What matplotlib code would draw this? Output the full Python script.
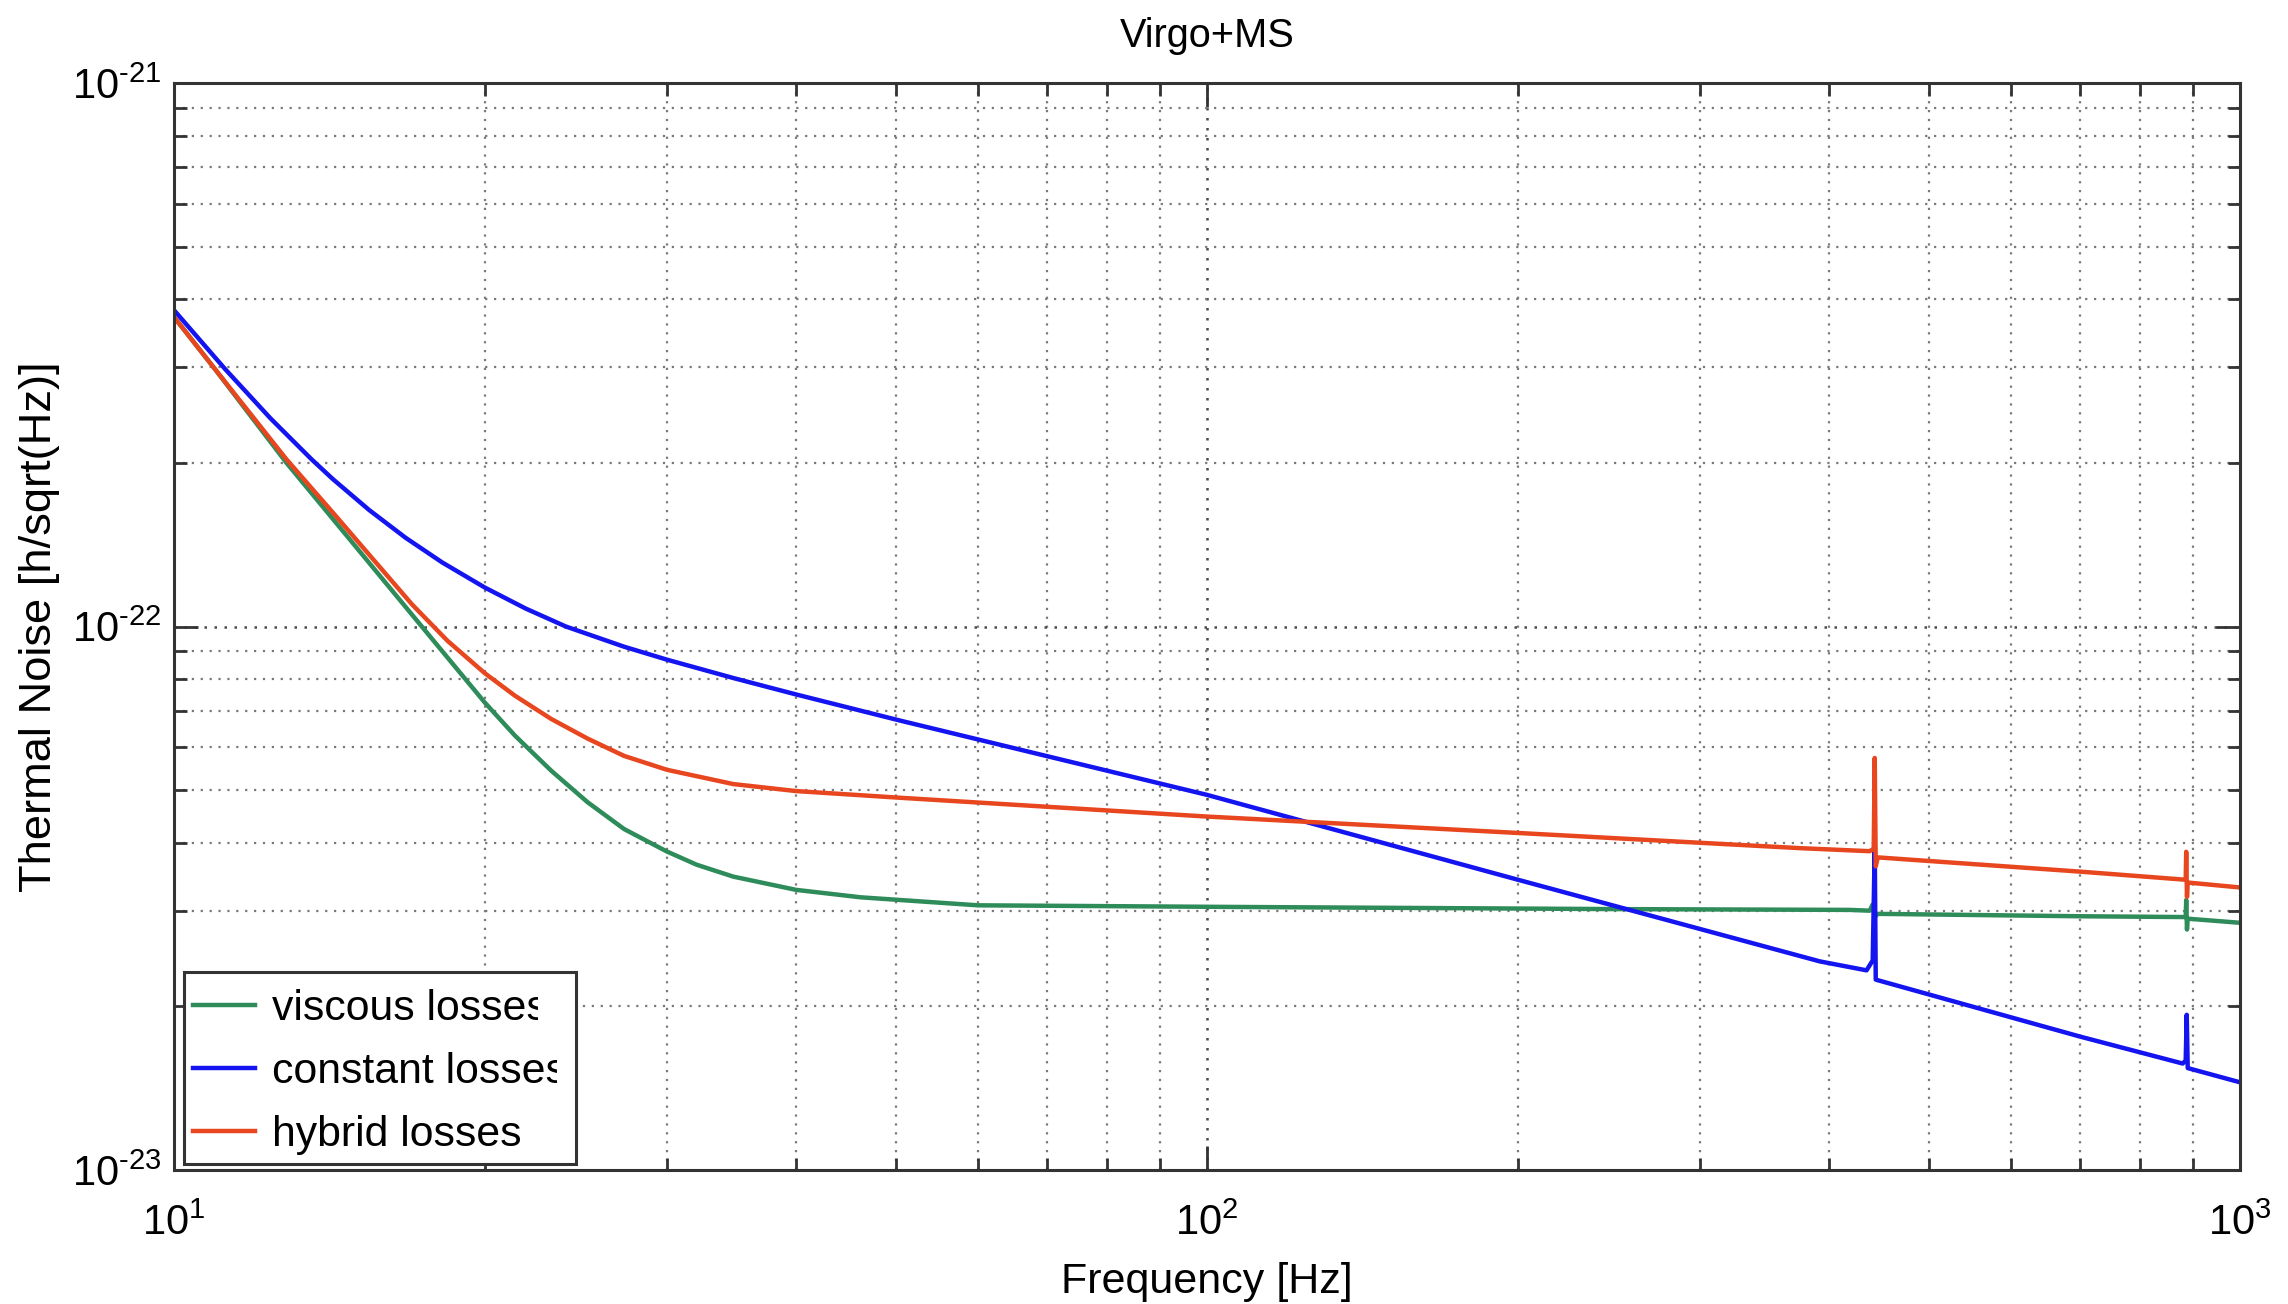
import numpy as np
import matplotlib
matplotlib.use("Agg")
import matplotlib.pyplot as plt
from matplotlib.patches import Rectangle
from matplotlib.ticker import (FixedLocator, LogLocator, NullFormatter,
                               FuncFormatter)
from matplotlib.transforms import Bbox

plt.rcParams['font.family'] = ['Liberation Sans', 'DejaVu Sans']
plt.rcParams['mathtext.fontset'] = 'custom'
plt.rcParams['mathtext.rm'] = 'Liberation Sans'
plt.rcParams['mathtext.default'] = 'regular'

# ---- labels -------------------------------------------------------------
title = "Virgo+MS"
x_label = "Frequency [Hz]"
y_label = "Thermal Noise [h/sqrt(Hz)]"
series_names = ["viscous losses", "constant losses", "hybrid losses"]

x_decades = [10, 100, 1000]
y_decades = [1e-23, 1e-22, 1e-21]

# ---- data: strain noise in units of 1e-23 / sqrt(Hz) ---------------------
noise_unit = 1e-23

freq_viscous = [10, 10.92, 12.85, 14.25, 16.76, 18.18, 20, 21.38, 23.18,
                25.14, 27.27, 30, 32.06, 34.78, 40, 46.2, 60, 100, 250, 419,
                438, 441, 443, 446, 700, 886, 887, 888.5, 890, 1000]
noise_viscous = [37.1, 30.0, 20.0, 15.77, 10.86, 9.01, 7.24, 6.30, 5.43,
                 4.75, 4.24, 3.855, 3.645, 3.466, 3.277, 3.175, 3.069, 3.05,
                 3.02, 3.01, 3.00, 3.08, 2.92, 2.96, 2.93, 2.92, 3.14, 2.77,
                 2.90, 2.85]

freq_constant = [10, 11.2, 12.4, 13.59, 14.25, 15.45, 16.76, 18.18, 20, 21.9,
                 23.95, 27.27, 30, 34.78, 40, 50.5, 100, 200, 392, 435, 441,
                 443, 444, 700, 880, 886, 888, 890, 1000]
noise_constant = [38.2, 29.8, 24.15, 20.3, 18.67, 16.38, 14.56, 13.12, 11.79,
                  10.79, 10.0, 9.18, 8.69, 8.04, 7.50, 6.71, 4.9, 3.42, 2.42,
                  2.33, 2.43, 3.93, 2.24, 1.76, 1.57, 1.59, 1.93, 1.54, 1.45]

freq_hybrid = [10, 10.92, 12.85, 14.25, 17, 18.4, 20, 21.38, 23.18, 25.14,
               27.27, 30, 34.78, 40, 50.5, 100, 200, 375, 438, 442, 443, 444,
               446, 700, 886, 887, 888.5, 890, 1000]
noise_hybrid = [37.1, 30.0, 20.3, 16.2, 10.98, 9.41, 8.2, 7.46, 6.76, 6.22,
                5.78, 5.45, 5.13, 4.98, 4.84, 4.47, 4.17, 3.91, 3.86, 3.90,
                5.73, 3.62, 3.76, 3.54, 3.42, 3.85, 3.18, 3.38, 3.31]

series_colors = ["#2e8b5a", "#1414f0", "#e8461e"]

# ---- figure / axes ------------------------------------------------------
W, H, DPI = 2288, 1304, 200
fig = plt.figure(figsize=(W / DPI, H / DPI), dpi=DPI, facecolor="white")
ax = fig.add_axes([174 / W, 1 - 1170 / H, (2240 - 174) / W, (1170 - 83) / H])

series = [(freq_viscous, noise_viscous),
          (freq_constant, noise_constant),
          (freq_hybrid, noise_hybrid)]
for (f, v), name, col in zip(series, series_names, series_colors):
    ax.loglog(f, np.asarray(v) * noise_unit, color=col, lw=1.6, label=name,
              zorder=2)

ax.set_xlim(x_decades[0], x_decades[-1])
ax.set_ylim(y_decades[0], y_decades[-1])


def decade_label(value, pos):
    """10^n with a plain hyphen for negative exponents."""
    exp = int(round(np.log10(value)))
    sign = r"\text{-}" if exp < 0 else ""
    return r"$\mathdefault{10^{%s%d}}$" % (sign, abs(exp))


for axis, decades in ((ax.xaxis, x_decades), (ax.yaxis, y_decades)):
    axis.set_major_locator(FixedLocator(decades))
    axis.set_minor_locator(LogLocator(base=10, subs=np.arange(2, 10), numticks=50))
    axis.set_major_formatter(FuncFormatter(decade_label))
    axis.set_minor_formatter(NullFormatter())

ax.grid(which="major", ls=(0, (1, 3)), color="#4a4a4a", lw=0.9)
ax.grid(which="minor", ls=(0, (1, 3)), color="#7a7a7a", lw=0.8)
ax.set_axisbelow(True)

ax.tick_params(which="both", direction="in", top=True, right=True,
               color="#333333", width=1.0, labelsize=15, labelcolor="black")
ax.tick_params(which="major", length=8.5)
ax.tick_params(which="minor", length=4.5)
ax.tick_params(axis="x", which="major", pad=12)
ax.tick_params(axis="y", which="major", pad=4.5)
for sp in ax.spines.values():
    sp.set_linewidth(1.1)
    sp.set_color("#333333")

ax.set_title(title, fontsize=14.3, pad=13)
ax.set_xlabel(x_label, fontsize=15.5)
ax.set_ylabel(y_label, fontsize=16.3)
ax.xaxis.set_label_coords(0.5, -0.085)
ax.yaxis.set_label_coords(-0.055, 0.5)

# ---- legend with a fixed frame ------------------------------------------
frame = Rectangle((0.0048, 0.0055), 0.1898, 0.1765, transform=ax.transAxes,
                  facecolor="white", edgecolor="#333333", lw=1.1, zorder=4)
ax.add_patch(frame)
leg = ax.legend(loc="lower left", bbox_to_anchor=(0.0092, 0.0140),
                frameon=False, fontsize=15.4, handlelength=1.46,
                handletextpad=0.38, labelspacing=0.53, borderpad=0,
                borderaxespad=0)
leg.set_zorder(5)

# long labels run into the frame edge and get cut off
legend_text_trim = [0.22, 0.22, 0.0]
fig.canvas.draw()
font_px = 15.4 * DPI / 72
for txt, trim in zip(leg.get_texts(), legend_text_trim):
    if trim <= 0:
        continue
    bb = txt.get_window_extent()
    txt.set_clip_box(Bbox.from_extents(bb.x0 - 20, bb.y0 - 20,
                                       bb.x1 - trim * font_px, bb.y1 + 20))
    txt.set_clip_on(True)

fig.savefig("out.png", dpi=DPI, facecolor="white")
